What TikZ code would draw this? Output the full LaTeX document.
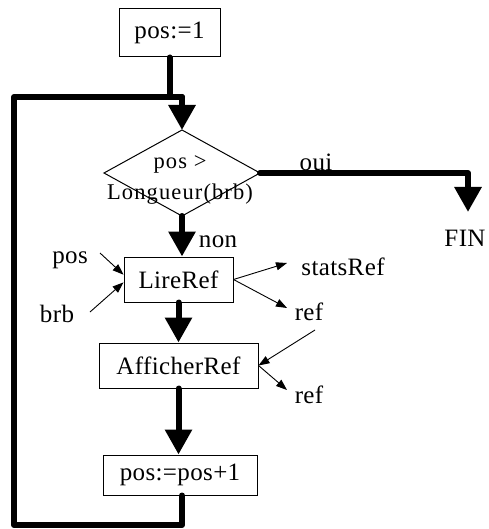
\documentclass[tikz,border=0pt]{standalone}
\usepackage{fontspec}
\setmainfont{Liberation Serif}[LetterSpace=1.5]
\newfontfamily\condfont{Liberation Serif}[LetterSpace=5]
\usetikzlibrary{arrows.meta,shapes.geometric}
\begin{document}
\begin{tikzpicture}[x=1pt,y=-1pt,
  txt/.style={font=\fontsize{25}{28}\selectfont},
  box/.style={txt,draw,line width=1pt,inner sep=0pt},
  lbl/.style={txt,inner sep=0pt},
  flow/.style={line width=6pt,line cap=round,line join=round},
  flowarrow/.style={flow,-{Triangle[length=25pt,width=26pt]}},
  dataarrow/.style={line width=0.9pt,-{Triangle[length=11pt,width=8pt]}},
]
\useasboundingbox (0,0) rectangle (488,529);

% process boxes and the test
\node[box,minimum width=101pt,minimum height=48pt] (init) at (169.5,33) {pos:=1};
\node[draw,diamond,line width=1pt,inner sep=0pt,outer sep=0pt,
      minimum width=156pt,minimum height=86pt] (test) at (182,173) {};
\node[font=\condfont\fontsize{22.5}{31}\selectfont,align=center,inner sep=0pt] (cond) at (180,180)
  {pos >\\Longueur(brb)};
\node[box,minimum width=109pt,minimum height=45pt] (lire) at (178.5,279.5) {LireRef};
\node[box,minimum width=159pt,minimum height=45pt] (aff) at (178.5,365.5) {AfficherRef};
\node[box,minimum width=154pt,minimum height=40pt] (incr) at (180,475) {pos:=pos+1};

% labels
\node[lbl] (fin) at (465,238) {FIN};
\node[lbl,anchor=base] (oui) at (316,171) {oui};
\node[lbl,anchor=base] (non) at (218,247) {non};
\node[lbl,anchor=base] (inpos) at (70,263) {pos};
\node[lbl,anchor=base] (inbrb) at (57,322) {brb};
\node[lbl,anchor=base] (stats) at (343,275) {statsRef};
\node[lbl,anchor=base] (ref1) at (309,320) {ref};
\node[lbl,anchor=base] (ref2) at (309,403) {ref};

% routing points
\coordinate (join) at (182,97);
\coordinate (loopL) at (14,525);
\coordinate (fin-in) at (468,212);
\coordinate (pos-src) at (100,253);
\coordinate (brb-src) at (90,312);
\coordinate (stats-dst) at (287,263);
\coordinate (ref1-dst) at (287,308);
\coordinate (ref-src) at (315,330);
\coordinate (ref2-dst) at (287,390);

% control flow
\draw[flow] (init.south) -- (init.south |- join);
\draw[flow] (incr.south -| join) |- (loopL) |- (join);
\draw[flowarrow] (join) -- (test.north);
\draw[flowarrow] (test.east) -| (fin-in);
\draw[flowarrow] (test.south) -- (test.south |- lire.north);
\draw[flowarrow] (lire.south) -- (aff.north);
\draw[flowarrow] (aff.south) -- (aff.south |- incr.north);

% data flow
\draw[dataarrow] (pos-src) -- (lire.175);
\draw[dataarrow] (brb-src) -- (lire.183);
\draw[dataarrow] (lire.east) -- (stats-dst);
\draw[dataarrow] (lire.east) -- (ref1-dst);
\draw[dataarrow] (ref-src) -- (aff.east);
\draw[dataarrow] (aff.east) -- (ref2-dst);
\end{tikzpicture}
\end{document}
